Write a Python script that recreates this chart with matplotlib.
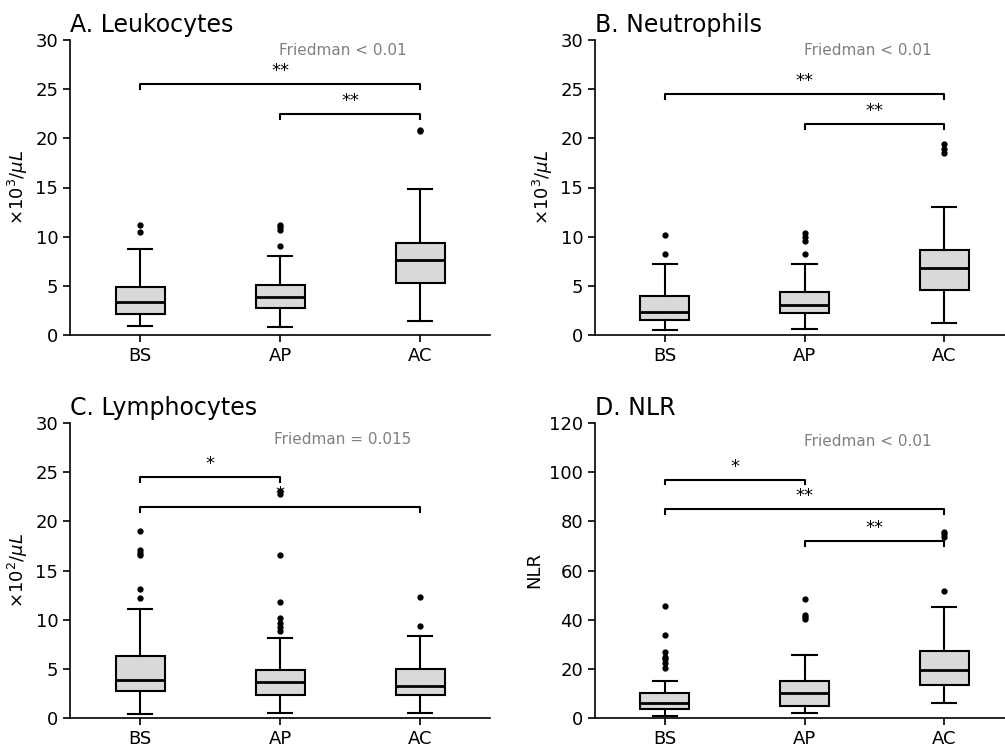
import matplotlib
matplotlib.use("Agg")
import matplotlib.pyplot as plt

groups = ["BS", "AP", "AC"]

# per panel: whisker low, Q1, median, Q3, whisker high, outliers
leuko_lo = [0.92, 0.81, 1.42]
leuko_q1 = [2.10, 2.78, 5.32]
leuko_med = [3.32, 3.86, 7.66]
leuko_q3 = [4.88, 5.08, 9.36]
leuko_hi = [8.75, 8.00, 14.81]
leuko_fliers = [[10.5, 11.2], [9.08, 10.7, 10.95, 11.2], [20.7, 20.85]]

neutro_lo = [0.54, 0.58, 1.26]
neutro_q1 = [1.50, 2.28, 4.62]
neutro_med = [2.38, 3.09, 6.80]
neutro_q3 = [3.94, 4.42, 8.63]
neutro_hi = [7.20, 7.20, 12.98]
neutro_fliers = [[8.26, 10.12], [8.26, 9.6, 9.96, 10.36], [18.55, 18.96, 19.4]]

lympho_lo = [0.41, 0.51, 0.51]
lympho_q1 = [2.72, 2.38, 2.38]
lympho_med = [3.91, 3.67, 3.23]
lympho_q3 = [6.32, 4.89, 4.96]
lympho_hi = [11.04, 8.09, 8.36]
lympho_fliers = [[12.16, 13.12, 16.55, 16.82, 17.06, 19.06],
                 [8.83, 9.24, 9.62, 10.13, 11.82, 16.58, 22.8, 23.04],
                 [9.31, 12.33]]

nlr_lo = [0.68, 2.04, 6.25]
nlr_q1 = [3.67, 4.89, 13.6]
nlr_med = [5.98, 10.33, 19.7]
nlr_q3 = [10.06, 15.09, 27.2]
nlr_hi = [15.22, 25.8, 45.1]
nlr_fliers = [[20.4, 22.2, 23.9, 25.0, 26.8, 33.6, 45.4],
              [40.4, 41.2, 42.1, 48.4],
              [51.6, 73.8, 74.9, 75.8]]

titles = ["A. Leukocytes", "B. Neutrophils", "C. Lymphocytes", "D. NLR"]
ylabels = [r"$\times10^3/\mu L$", r"$\times10^3/\mu L$", r"$\times10^2/\mu L$", "NLR"]
ymax = [30, 30, 30, 120]
friedman = ["Friedman < 0.01", "Friedman < 0.01", "Friedman = 0.015", "Friedman < 0.01"]
friedman_y = [28.9, 28.9, 28.3, 112.5]

# brackets: (group i, group j, height, label)
brackets = [
    [(0, 2, 25.5, "**"), (1, 2, 22.5, "**")],
    [(0, 2, 24.5, "**"), (1, 2, 21.5, "**")],
    [(0, 1, 24.5, "*"), (0, 2, 21.5, "*")],
    [(0, 1, 97, "*"), (0, 2, 85, "**"), (1, 2, 72, "**")],
]

panels = [
    (leuko_lo, leuko_q1, leuko_med, leuko_q3, leuko_hi, leuko_fliers),
    (neutro_lo, neutro_q1, neutro_med, neutro_q3, neutro_hi, neutro_fliers),
    (lympho_lo, lympho_q1, lympho_med, lympho_q3, lympho_hi, lympho_fliers),
    (nlr_lo, nlr_q1, nlr_med, nlr_q3, nlr_hi, nlr_fliers),
]

W, H = 1005, 749
fig = plt.figure(figsize=(W / 100, H / 100), dpi=100)
# axes boxes in pixels: left, top, right, bottom (right column runs past the edge)
boxes_px = [(70, 40, 490, 335), (595, 40, 1014, 335),
            (70, 423, 490, 718), (595, 423, 1014, 718)]

for k, (lo, q1, med, q3, hi, fl) in enumerate(panels):
    l, t, r, b = boxes_px[k]
    ax = fig.add_axes([l / W, 1 - b / H, (r - l) / W, (b - t) / H])
    stats = [dict(whislo=lo[i], q1=q1[i], med=med[i], q3=q3[i], whishi=hi[i],
                  fliers=fl[i], label=groups[i]) for i in range(3)]
    ax.bxp(stats, positions=[1, 2, 3], widths=0.35, patch_artist=True,
           boxprops=dict(facecolor="#d9d9d9", edgecolor="black", linewidth=1.5),
           medianprops=dict(color="black", linewidth=2),
           whiskerprops=dict(color="black", linewidth=1.5),
           capprops=dict(color="black", linewidth=1.5),
           flierprops=dict(marker="o", markerfacecolor="black", markeredgecolor="black",
                           markersize=3.5))
    ax.set_xlim(0.5, 3.5)
    ax.set_ylim(0, ymax[k])
    step = ymax[k] / 6
    ax.set_yticks([step * i for i in range(7)])
    ax.spines["top"].set_visible(False)
    ax.spines["right"].set_visible(False)
    ax.spines["left"].set_linewidth(1.2)
    ax.spines["bottom"].set_linewidth(1.2)
    ax.tick_params(labelsize=13, width=1.2, length=5)
    ax.set_title(titles[k], loc="left", fontsize=17, pad=6)
    ax.set_ylabel(ylabels[k], fontsize=13)

    drop = ymax[k] / 60
    for i, j, h, lab in brackets[k]:
        ax.plot([i + 1, i + 1, j + 1, j + 1], [h - drop, h, h, h - drop],
                color="black", linewidth=1.5)
        ax.text((i + j) / 2 + 1, h + drop * 0.8, lab, ha="center", va="bottom",
                fontsize=13)
    ax.text(2.45, friedman_y[k], friedman[k], ha="center", va="center",
            fontsize=11, color="gray")

fig.savefig("out.png", dpi=100)
